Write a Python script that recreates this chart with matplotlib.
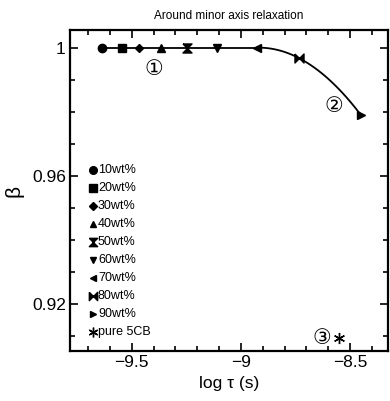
import matplotlib

matplotlib.use("Agg")
import matplotlib.pyplot as plt
import numpy as np
from matplotlib.ticker import MultipleLocator

plt.rcParams["font.family"] = ["Liberation Sans", "DejaVu Sans", "Noto Sans CJK JP"]

HOURGLASS = [(-1, 1), (1, 1), (-1, -1), (1, -1), (-1, 1)]
BOWTIE = [(-1, 1), (-1, -1), (1, 1), (1, -1), (-1, 1)]
STAR = (6, 2, 0)

labels = ["10wt%", "20wt%", "30wt%", "40wt%", "50wt%", "60wt%", "70wt%", "80wt%", "90wt%", "pure 5CB"]
markers = ["o", "s", "D", "^", HOURGLASS, "v", "<", BOWTIE, ">", STAR]
log_tau = [-9.635, -9.547, -9.467, -9.368, -9.247, -9.110, -8.925, -8.733, -8.451]
beta = [1.0, 1.0, 1.0, 1.0, 1.0, 1.0, 1.0, 0.9967, 0.979]
pure_tau = -8.55
pure_beta = 0.9093

fig = plt.figure(figsize=(3.9, 4.01), dpi=100)
ax = fig.add_axes([0.1795, 0.1247, 0.8155, 0.8003])

# flat part straight, bent tail as quadratic through last three points
x = np.array(log_tau)
y = np.array(beta)
ax.plot(x[:7], y[:7], color="black", lw=1.3, zorder=1)
coef = np.polyfit(x[6:], y[6:], 2)
xs = np.linspace(x[6], x[8], 60)
ax.plot(xs, np.polyval(coef, xs), color="black", lw=1.3, zorder=1)

sizes = [6, 6, 4.5, 5.5, 6.5, 5.5, 5.5, 6.5, 5.5]
for xi, yi, m, s in zip(log_tau, beta, markers[:9], sizes):
    ax.plot(xi, yi, marker=m, ms=s, color="black", ls="none", zorder=2)
ax.plot(pure_tau, pure_beta, marker=STAR, ms=8, mew=1.0, color="black", ls="none")

# legend column drawn in axes coords
leg_sizes = [5.5, 5.5, 4, 5, 6, 5, 5, 6, 5, 7]
for i, (lab, m, s) in enumerate(zip(labels, markers, leg_sizes)):
    yy = 0.564 - i * 0.056
    ax.plot(0.072, yy, marker=m, ms=s, mew=1.0, color="black", transform=ax.transAxes, ls="none", clip_on=False)
    ax.text(0.088, yy, lab, transform=ax.transAxes, fontsize=9, va="center", ha="left")

circ = ["DejaVu Sans", "Noto Sans CJK JP"]
ax.text(-9.4, 0.9933, "\u2460", fontsize=15, ha="center", va="center", family=circ)
ax.text(-8.575, 0.9817, "\u2461", fontsize=15, ha="center", va="center", family=circ)
ax.text(-8.63, 0.9093, "\u2462", fontsize=15, ha="center", va="center", family=circ)

ax.set_xlim(-9.783, -8.326)
ax.set_ylim(0.9052, 1.0055)
ax.xaxis.set_minor_locator(MultipleLocator(0.1))
ax.yaxis.set_minor_locator(MultipleLocator(0.01))
ax.set_xticks([-9.5, -9.0, -8.5])
ax.set_xticklabels(["\u22129.5", "\u22129", "\u22128.5"])
ax.set_yticks([0.92, 0.96, 1.0])
ax.set_yticklabels(["0.92", "0.96", "1"])
ax.tick_params(which="both", direction="in", top=True, right=True, labelsize=12.5, width=1.2)
ax.tick_params(which="major", length=6, pad=3)
ax.tick_params(which="minor", length=3.5)
for sp in ax.spines.values():
    sp.set_linewidth(1.6)

ax.set_xlabel("log \u03c4 (s)", fontsize=12.5, labelpad=4)
ax.set_ylabel("\u03b2", fontsize=15, labelpad=6)
ax.set_title("Around minor axis relaxation", fontsize=8.5, pad=8)

fig.savefig("out.png", dpi=100)
